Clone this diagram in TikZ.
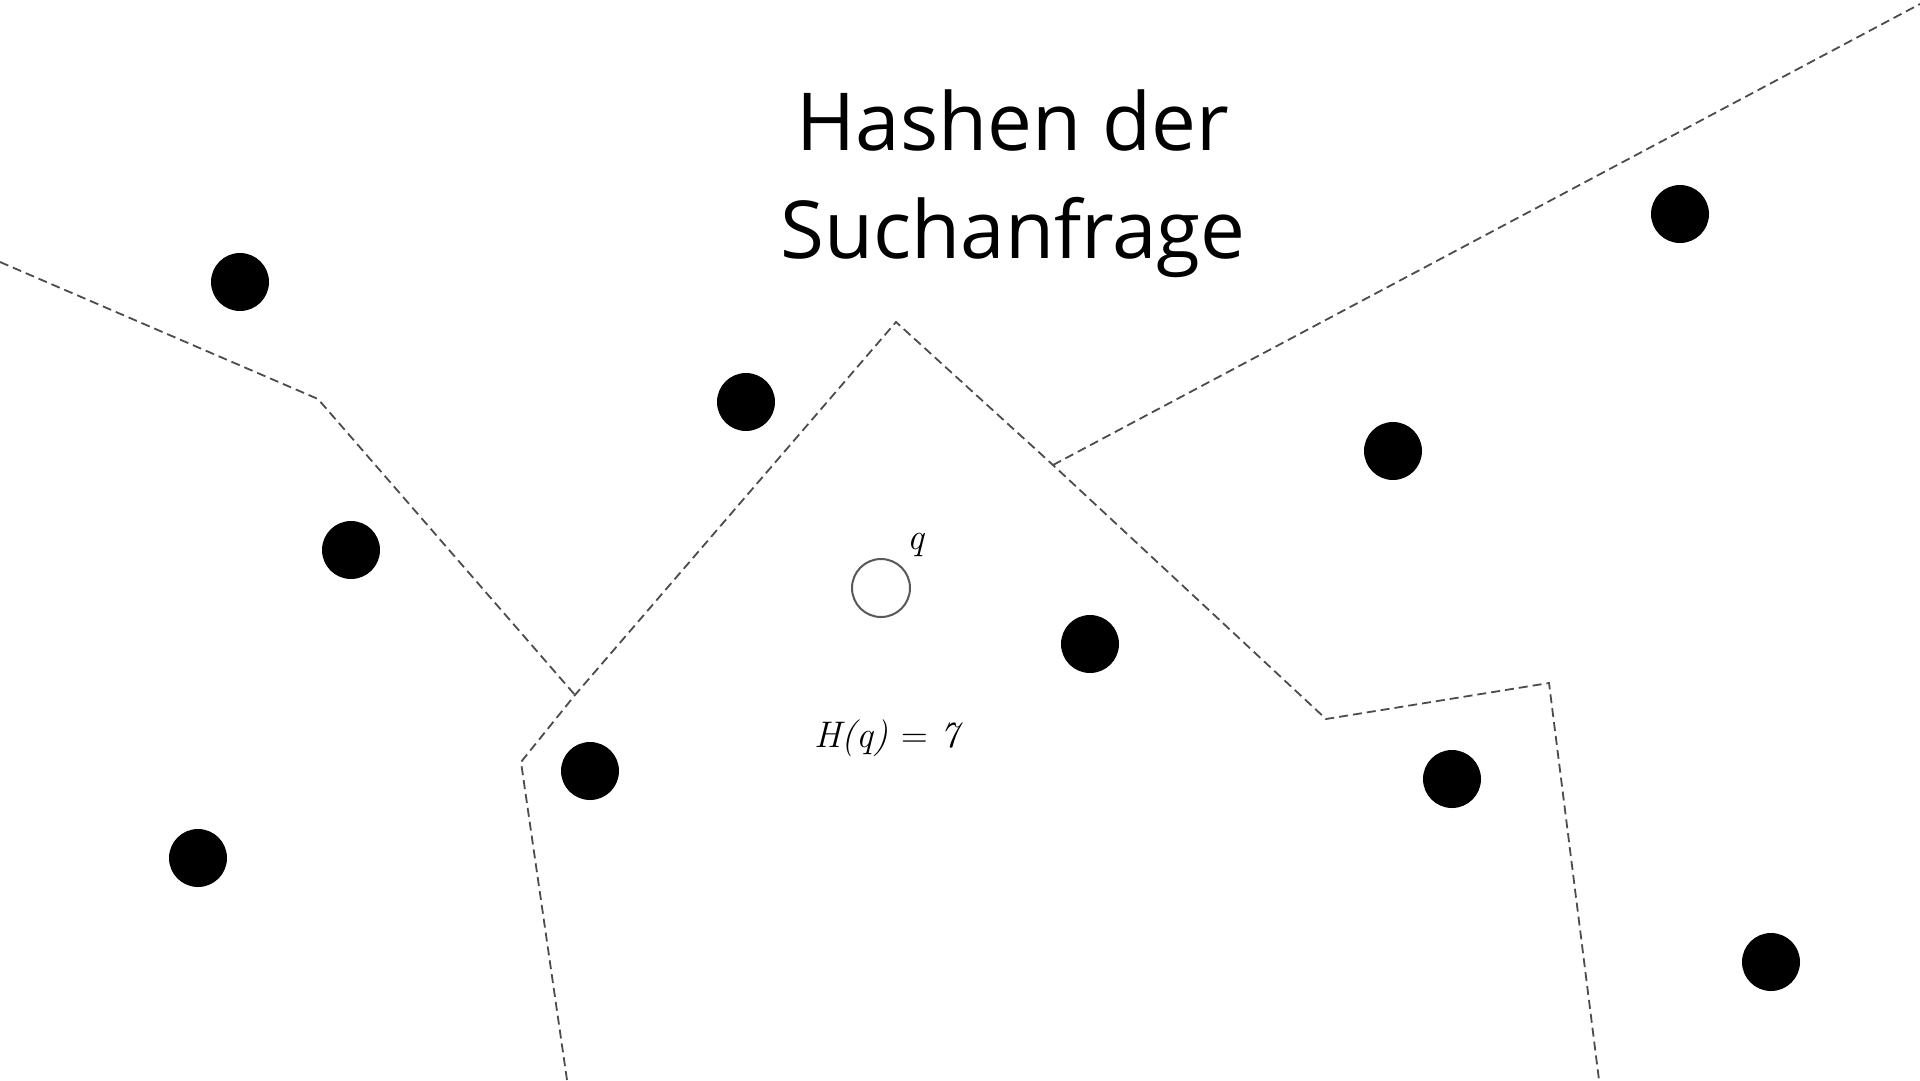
\documentclass[tikz,border=0pt]{standalone}
\usepackage{fontspec}
\setmainfont{Open Sans}
\newfontfamily\lmfont{Latin Modern Roman}
\usepackage{unicode-math}
\setmathfont{Latin Modern Math}
\begin{document}
\begin{tikzpicture}[x=1pt,y=-1pt,
  dot/.style={circle,fill=black,inner sep=0pt,minimum size=58pt},
  qcirc/.style={circle,draw=black!65,line width=2pt,inner sep=0pt,minimum size=58pt},
  cell/.style={draw=black!70,line width=1.8pt,dash pattern=on 9pt off 5pt},
  lbl/.style={font=\fontsize{37}{40}\selectfont\lmfont\itshape},
  title/.style={font=\fontsize{80}{108}\selectfont,align=center}]
\useasboundingbox[fill=white] (0,0) rectangle (1920,1080);
% cell boundaries
\coordinate (l0) at (0,262);
\coordinate (l1) at (318,399);
\coordinate (j1) at (575,695);
\coordinate (pk) at (896,322);
\coordinate (j2) at (1053,465);
\coordinate (tr) at (1920,4);
\coordinate (b1) at (521,762);
\coordinate (b2) at (567,1080);
\coordinate (r1) at (1326,719);
\coordinate (r2) at (1549,683);
\coordinate (r3) at (1599,1080);
\draw[cell] (l0) -- (l1) -- (j1);
\draw[cell] (b2) -- (b1) -- (j1) -- (pk) -- (j2) -- (r1) -- (r2) -- (r3);
\draw[cell] (j2) -- (tr);
% points
\node[dot] (p1) at (240,282) {};
\node[dot] (p2) at (746,402) {};
\node[dot] (p3) at (1680,214) {};
\node[dot] (p4) at (1393,451) {};
\node[dot] (p5) at (351,550) {};
\node[dot] (p6) at (1090,644) {};
\node[dot] (p7) at (590,771) {};
\node[dot] (p8) at (198,858) {};
\node[dot] (p9) at (1452,779) {};
\node[dot] (p10) at (1771,962) {};
% query
\node[qcirc] (q) at (881,588) {};
\node[lbl] (ql) at (916,545) {q};
\node[lbl] (hq) at (887,738) {H(q) {\upshape=} 7};
% title
\node[title] (t) at (1013,184) {Hashen der\\Suchanfrage};
\end{tikzpicture}
\end{document}
